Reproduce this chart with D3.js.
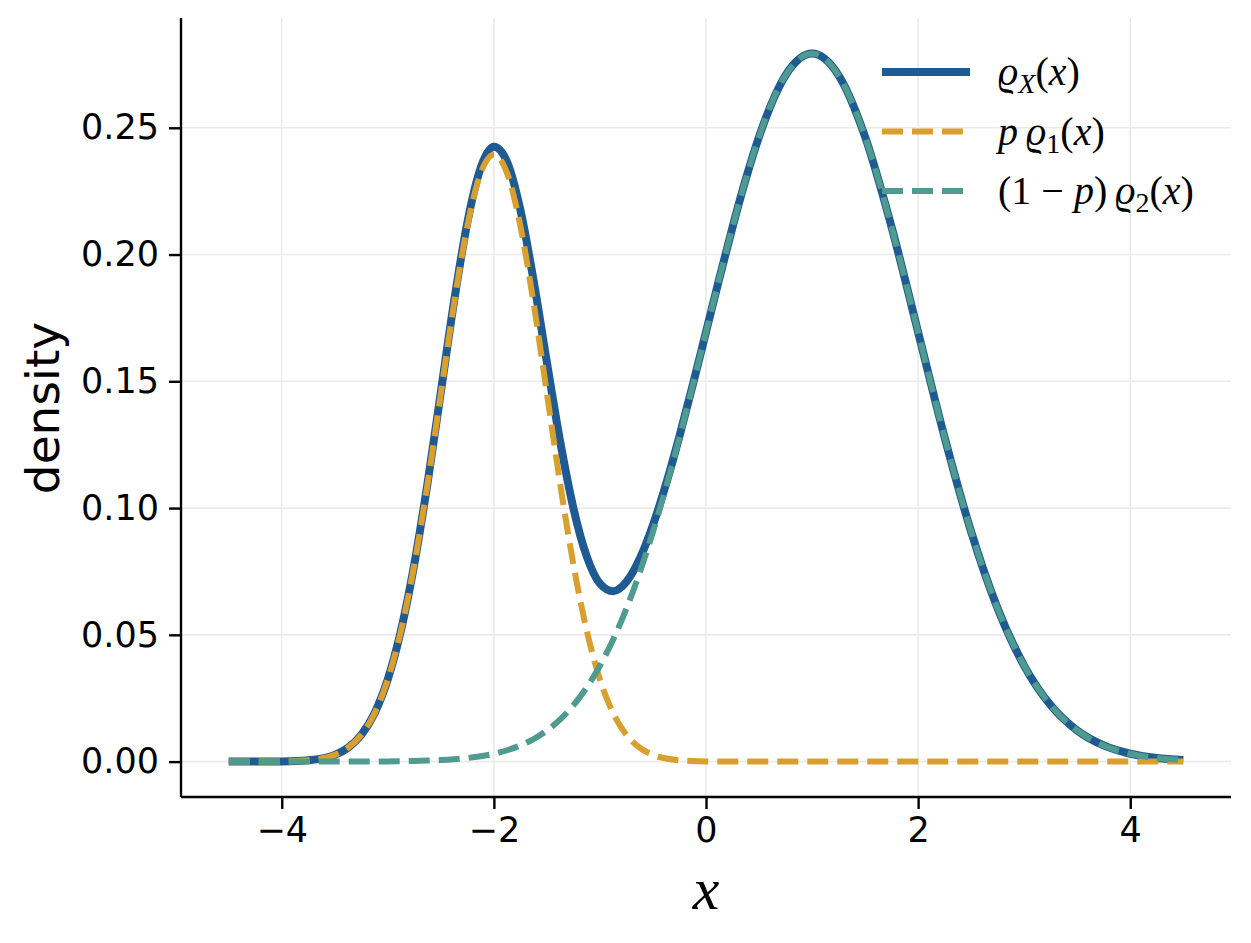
<!DOCTYPE html>
<html>
<head>
<meta charset="utf-8">
<script src="https://cdn.jsdelivr.net/npm/d3@7"></script>
<style>
body { margin: 0; background: #fff; }
</style>
</head>
<body>
<script>
// sample points
var xs = [-4.5, -4.25, -4, -3.75, -3.5, -3.375, -3.25, -3.125, -3, -2.875, -2.75, -2.625,
  -2.5, -2.375, -2.25, -2.125, -2, -1.875, -1.75, -1.625, -1.5, -1.375, -1.25, -1.125,
  -1, -0.875, -0.75, -0.625, -0.5, -0.375, -0.25, -0.125, 0, 0.125, 0.25, 0.375, 0.5,
  0.75, 1, 1.25, 1.5, 1.75, 2, 2.25, 2.5, 2.75, 3, 3.25, 3.5, 3.75, 4, 4.25, 4.5];

var mixture = [0, 0.00001, 0.00008, 0.00052, 0.00267, 0.00548, 0.01055, 0.01910, 0.03249,
  0.05192, 0.07796, 0.10998, 0.14580, 0.18163, 0.21266, 0.23413, 0.24247, 0.23649, 0.21761,
  0.18960, 0.15746, 0.12623, 0.09993, 0.08098, 0.07019, 0.06720, 0.07092, 0.08004, 0.09332,
  0.10973, 0.12837, 0.14853, 0.16946, 0.19047, 0.21081, 0.22971, 0.24645,
  0.27067, 0.27926, 0.27067, 0.24645, 0.21080, 0.16938, 0.12785, 0.09066, 0.06040, 0.03779,
  0.02222, 0.01227, 0.00637, 0.00310, 0.00142, 0.00061];

var part1 = [0, 0.00001, 0.00008, 0.00052, 0.00266, 0.00546, 0.01052, 0.01904, 0.03240,
  0.05177, 0.07771, 0.10959, 0.14519, 0.18069, 0.21124, 0.23201, 0.23937, 0.23201, 0.21124,
  0.18069, 0.14519, 0.10959, 0.07771, 0.05177, 0.03240, 0.01904, 0.01052, 0.00546, 0.00266,
  0.00122, 0.00052, 0.00021, 0.00008, 0.00003, 0.00001, 0, 0,
  0, 0, 0, 0, 0, 0, 0, 0, 0, 0, 0, 0, 0, 0, 0, 0];

var part2 = [0, 0, 0, 0, 0.00001, 0.00002, 0.00003, 0.00006, 0.00009,
  0.00015, 0.00025, 0.00039, 0.00061, 0.00094, 0.00142, 0.00212, 0.00310, 0.00448, 0.00637,
  0.00891, 0.01227, 0.01664, 0.02222, 0.02921, 0.03779, 0.04816, 0.06040, 0.07458, 0.09066,
  0.10851, 0.12785, 0.14832, 0.16938, 0.19044, 0.21080, 0.22971, 0.24645,
  0.27067, 0.27926, 0.27067, 0.24645, 0.21080, 0.16938, 0.12785, 0.09066, 0.06040, 0.03779,
  0.02222, 0.01227, 0.00637, 0.00310, 0.00142, 0.00061];

var xTicks = [-4, -2, 0, 2, 4];
var yTicks = [0, 0.05, 0.10, 0.15, 0.20, 0.25];

var w = 1251, h = 943;
var padL = 181, padT = 18, padR = 1231, padB = 797;

var svg = d3.select("body").append("svg")
    .attr("width", w)
    .attr("height", h);

var x = d3.scaleLinear().domain([-4.95, 4.95]).range([padL, padR]);
var y = d3.scaleLinear().domain([-0.01396, 0.2933]).range([padB, padT]);

// grid
svg.append("g").selectAll("line").data(xTicks).enter().append("line")
    .attr("x1", function(d) { return x(d); })
    .attr("x2", function(d) { return x(d); })
    .attr("y1", padT).attr("y2", padB)
    .attr("stroke", "#ebebeb").attr("stroke-width", 1.6);
svg.append("g").selectAll("line").data(yTicks).enter().append("line")
    .attr("y1", function(d) { return y(d); })
    .attr("y2", function(d) { return y(d); })
    .attr("x1", padL).attr("x2", padR)
    .attr("stroke", "#ebebeb").attr("stroke-width", 1.6);

// curves
var series = [
  { vals: mixture, color: "#1f5b92", width: 8, dash: null },
  { vals: part1, color: "#d99f2f", width: 6, dash: "21,9" },
  { vals: part2, color: "#4f9b8f", width: 6, dash: "21,9" }
];

var line = d3.line()
    .x(function(d) { return x(d[0]); })
    .y(function(d) { return y(d[1]); })
    .curve(d3.curveMonotoneX);

series.forEach(function(s) {
  svg.append("path")
     .attr("d", line(d3.zip(xs, s.vals)))
     .attr("fill", "none")
     .attr("stroke", s.color)
     .attr("stroke-width", s.width)
     .attr("stroke-dasharray", s.dash)
     .attr("stroke-linejoin", "round");
});

// axes
var xAxis = svg.append("g")
    .attr("transform", "translate(0," + padB + ")")
    .call(d3.axisBottom(x).tickValues(xTicks).tickSize(12).tickPadding(8)
      .tickFormat(function(d) { return d < 0 ? "\u2212" + Math.abs(d) : d; }));
var yAxis = svg.append("g")
    .attr("transform", "translate(" + padL + ",0)")
    .call(d3.axisLeft(y).tickValues(yTicks).tickSize(12).tickPadding(10)
      .tickFormat(d3.format(".2f")));

[xAxis, yAxis].forEach(function(a) {
  a.select(".domain").attr("stroke", "#000").attr("stroke-width", 2.4);
  a.selectAll(".tick line").attr("stroke", "#000").attr("stroke-width", 2.4);
  a.selectAll(".tick text")
   .attr("font-family", "DejaVu Sans")
   .attr("font-size", 35)
   .attr("fill", "#000");
});
// spines only span the plot area
xAxis.select(".domain").attr("d", "M" + padL + ",0H" + padR);
yAxis.select(".domain").attr("d", "M0," + padT + "V" + padB);

// axis labels
svg.append("text")
   .attr("x", x(0)).attr("y", 909)
   .attr("text-anchor", "middle")
   .attr("font-family", "'Liberation Serif'")
   .attr("font-style", "italic")
   .attr("font-size", 60)
   .text("x");

svg.append("text")
   .attr("transform", "translate(59,408) rotate(-90)")
   .attr("text-anchor", "middle")
   .attr("font-family", "DejaVu Sans")
   .attr("font-size", 47)
   .text("density");

// legend
var legendLabels = [
  [["\u03F1", "i"], ["X", "is"], ["(", ""], ["x", "i"], [")", ""]],
  [["p", "i"], ["\u2009", ""], ["\u03F1", "i"], ["1", "s"], ["(", ""], ["x", "i"], [")", ""]],
  [["(1 \u2212 ", ""], ["p", "i"], [")\u2009", ""], ["\u03F1", "i"], ["2", "s"], ["(", ""], ["x", "i"], [")", ""]]
];

var lg = svg.append("g");
series.forEach(function(s, i) {
  var cy = 72 + i * 59.5;
  lg.append("line")
    .attr("x1", 882).attr("x2", 970)
    .attr("y1", cy).attr("y2", cy)
    .attr("stroke", s.color)
    .attr("stroke-width", s.width)
    .attr("stroke-dasharray", s.dash);
  var t = lg.append("text")
    .attr("x", 998).attr("y", cy + 13)
    .attr("font-family", "'Liberation Serif', 'DejaVu Serif'")
    .attr("font-size", 40);
  var shifted = false;
  legendLabels[i].forEach(function(seg) {
    var sp = t.append("tspan").text(seg[0]);
    if (seg[1].indexOf("i") >= 0) sp.attr("font-style", "italic");
    if (seg[1].indexOf("s") >= 0) {
      sp.attr("font-size", 28).attr("dy", 8);
      shifted = true;
    } else if (shifted) {
      sp.attr("dy", -8);
      shifted = false;
    }
  });
});
</script>
</body>
</html>
